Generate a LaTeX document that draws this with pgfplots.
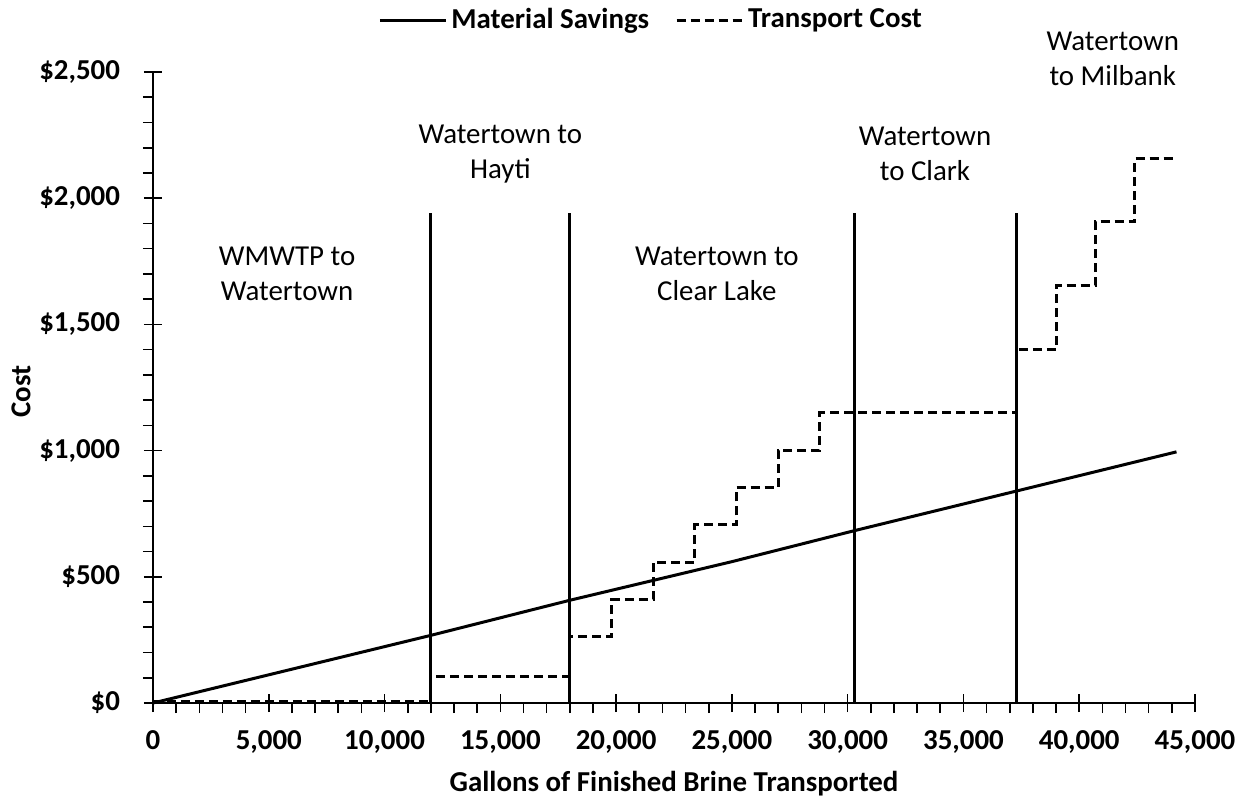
\documentclass[border=0pt]{standalone}
\usepackage{fontspec}
\setmainfont{Carlito}
\usepackage{pgfplots}
\pgfplotsset{compat=1.18}
\begin{document}
\begin{tikzpicture}
\begin{axis}[
  width=521bp, height=315.5bp, scale only axis,
  xmin=0, xmax=45000, ymin=0, ymax=2500,
  axis lines*=left,
  axis line style={line width=1bp, black},
  xtick={0,5000,...,45000},
  ytick={0,500,...,2500},
  minor x tick num=4, minor y tick num=4,
  tick align=outside,
  major tick length=9bp, minor tick length=5bp,
  tick style={black, line width=0.8bp},
  major x tick style={yshift=4.5bp},
  major y tick style={xshift=4.5bp},
  scaled x ticks=false, scaled y ticks=false,
  /pgf/number format/1000 sep={,},
  /pgf/number format/assume math mode=true,
  xticklabel style={font=\bfseries\fontsize{14.5}{17}\selectfont, yshift=-1.5bp},
  yticklabel style={font=\bfseries\fontsize{14.5}{17}\selectfont, xshift=-4bp},
  yticklabel={\$\pgfmathprintnumber{\tick}},
  xlabel={Gallons of Finished Brine Transported},
  ylabel={Cost},
  xlabel style={font=\bfseries\fontsize{14.5}{17}\selectfont, at={(axis description cs:0.5,-0.127)}, anchor=center},
  ylabel style={font=\bfseries\fontsize{14.5}{17}\selectfont, at={(axis description cs:-0.1267,0.494)}, anchor=center},
  clip=false,
  legend columns=2,
  legend style={draw=none, fill=none, at={(0.479,1.0824)}, anchor=center,
    font=\bfseries\fontsize{14.5}{17}\selectfont,
    /tikz/every even column/.append style={column sep=11bp}},
  legend image code/.code={\draw[#1] (0bp,0bp) -- (33bp,0bp);},
]
\addplot[black, line width=1.5bp] coordinates {
  (0,0) (12000,268) (18000,407) (25000,560) (30300,683) (37300,840) (44200,995)
};
\addlegendentry{Material Savings}
\addplot[black, line width=1.5bp, dash pattern=on 4.5bp off 2.5bp] coordinates {
  (0,5) (12000,5) (12000,104) (18000,104) (18000,262) (19800,262) (19800,410)
  (21600,410) (21600,558) (23400,558) (23400,706) (25200,706) (25200,854)
  (27000,854) (27000,1002) (28800,1002) (28800,1150) (37300,1150) (37300,1400)
  (39000,1400) (39000,1655) (40700,1655) (40700,1908) (42400,1908) (42400,2158)
  (44200,2158)
};
\addlegendentry{Transport Cost}
\addplot[black, line width=1.6bp, forget plot] coordinates {(12000,0) (12000,1940)};
\addplot[black, line width=1.6bp, forget plot] coordinates {(18000,0) (18000,1940)};
\addplot[black, line width=1.6bp, forget plot] coordinates {(30300,0) (30300,1940)};
\addplot[black, line width=1.6bp, forget plot] coordinates {(37300,0) (37300,1940)};
\node[align=center, font=\fontsize{14.5}{17.5}\selectfont] at (axis cs:5790,1700) {WMWTP to\\Watertown};
\node[align=center, font=\fontsize{14.5}{17.5}\selectfont] at (axis cs:15000,2176) {Watertown to\\Hayti};
\node[align=center, font=\fontsize{14.5}{17.5}\selectfont] at (axis cs:24350,1700) {Watertown to\\Clear Lake};
\node[align=center, font=\fontsize{14.5}{17.5}\selectfont] at (axis cs:33340,2176) {Watertown\\to Clark};
\node[align=center, font=\fontsize{14.5}{17.5}\selectfont] at (axis cs:41450,2551) {Watertown\\to Milbank};
\coordinate (bl) at (rel axis cs:0,0);
\coordinate (tr) at (rel axis cs:1,1);
\end{axis}
\pgfresetboundingbox
\useasboundingbox ([shift={(-76.5bp,-48bp)}]bl) rectangle ([shift={(26.5bp,36bp)}]tr);
\end{tikzpicture}
\end{document}
